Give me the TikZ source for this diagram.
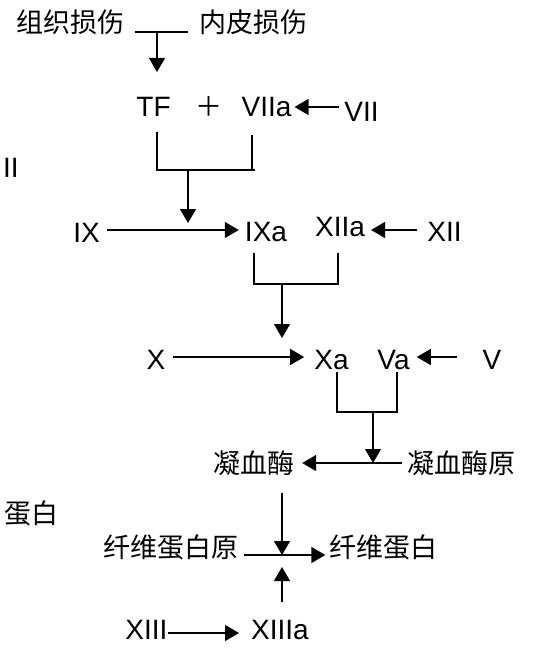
\documentclass[tikz,border=0pt]{standalone}
\usepackage{fontspec}
\setmainfont{Liberation Sans}
\newfontfamily\cjk{Noto Sans CJK SC}
\usetikzlibrary{arrows.meta}
\begin{document}
\begin{tikzpicture}[x=1pt,y=-1pt,
  lat/.style={font=\fontsize{28}{30}\selectfont, inner sep=0pt},
  zh/.style={font=\cjk\fontsize{27}{29}\selectfont, inner sep=0pt},
  ln/.style={line width=1.4pt},
  arr/.style={ln, -{Triangle[length=14pt,width=16pt]}}]
\useasboundingbox (0,0) rectangle (548,652);
\clip (0,0) rectangle (548,652);
% texts
\node[zh] (zz) at (70.5,22) {组织损伤};
\node[zh] (np) at (253.5,22) {内皮损伤};
\node[lat] (tf) at (153.5,107) {TF};
\node[zh] (plus) at (209,107) {＋};
\node[lat] (v7a) at (266.5,107) {VIIa};
\node[lat] (v7) at (361.5,112) {VII};
\node[lat, anchor=west] (ii) at (3,168) {II};
\node[lat] (ix) at (86.5,233) {IX};
\node[lat] (ixa) at (266,232) {IXa};
\node[lat] (xiia) at (340,227) {XIIa};
\node[lat] (xii) at (444.5,232) {XII};
\node[lat] (x) at (156,360) {X};
\node[lat] (xa) at (331.5,360) {Xa};
\node[lat] (va) at (393.5,360) {Va};
\node[lat] (v) at (492,360) {V};
\node[zh] (thr) at (253.5,463) {凝血酶};
\node[zh] (pro) at (461.5,463) {凝血酶原};
\node[zh, anchor=east] (frag) at (59,513) {蛋白};
\node[zh] (fgn) at (171,547) {纤维蛋白原};
\node[zh] (fbn) at (383.5,547) {纤维蛋白};
\node[lat] (x13) at (146.5,630) {XIII};
\node[lat] (x13a) at (280,630) {XIIIa};
% junction coordinates
\coordinate (j1a) at (135,32);
\coordinate (j1b) at (188,32);
\coordinate (j1m) at (157,32);
\coordinate (j1t) at (157,72);
\coordinate (b1l) at (157,132);
\coordinate (b1r) at (252,135);
\coordinate (b1m) at (188,170);
\coordinate (b1t) at (188,223);
\coordinate (b2l) at (254,253);
\coordinate (b2r) at (338,253);
\coordinate (b2m) at (282,284);
\coordinate (b2t) at (282,338);
\coordinate (b3l) at (337,372);
\coordinate (b3r) at (397,372);
\coordinate (b3m) at (373,412);
\coordinate (t1) at (373,463);
\coordinate (f1) at (282,493);
\coordinate (f2) at (282,555);
\coordinate (f3) at (282,602);
\coordinate (f4) at (282,567);
% connectors
\draw[ln] (j1a) -- (j1b);
\draw[arr] (j1m) -- (j1t);
\draw[arr] ([xshift=-5pt]v7.west |- v7a.east) -- ([xshift=3pt]v7a.east);
\draw[ln] (b1l) -- (b1l |- b1m) -- ([xshift=3pt]b1r |- b1m);
\draw[ln] (b1r) -- (b1r |- b1m);
\draw[arr] (b1m) -- (b1t);
\draw[arr] ([shift={(7,-3)}]ix.east) -- ([shift={(-6,-2)}]ixa.west);
\draw[arr] ([shift={(-10,-2)}]xii.west) -- ([shift={(6,3)}]xiia.east);
\draw[ln] (b2l) -- (b2l |- b2m) -- (b2r |- b2m) -- (b2r);
\draw[arr] (b2m) -- (b2t);
\draw[arr] ([shift={(7,-3)}]x.east) -- ([shift={(-10,-3)}]xa.west);
\draw[arr] ([shift={(-25,-3)}]v.west) -- ([shift={(7,-3)}]va.east);
\draw[ln] (b3l) -- (b3l |- b3m) -- (b3r |- b3m) -- (b3r);
\draw[arr] (b3m) -- (t1);
\draw[arr] ([xshift=-5pt]pro.west) -- ([xshift=8pt]thr.east);
\draw[arr] (f1) -- (f2);
\draw[arr] ([shift={(5,8)}]fgn.east) -- ([shift={(-4,8)}]fbn.west);
\draw[arr] (f3) -- (f4);
\draw[arr] ([shift={(0,3)}]x13.east) -- ([shift={(-12,3)}]x13a.west);
\end{tikzpicture}
\end{document}
